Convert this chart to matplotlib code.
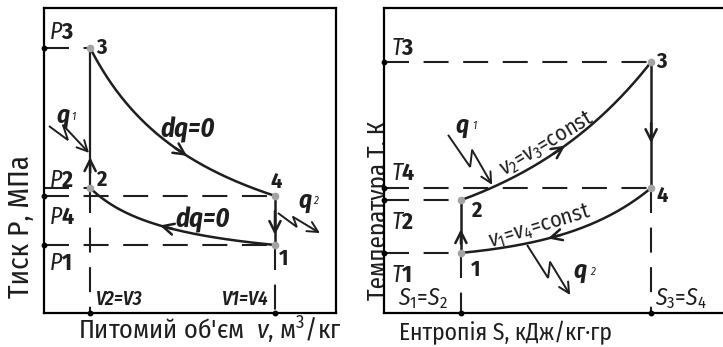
import numpy as np
import matplotlib
matplotlib.use("Agg")
import matplotlib.pyplot as plt
from matplotlib import font_manager

# Otto cycle, state points 1..4 (axis units, 0..1)
v_values = [0.791, 0.158, 0.158, 0.791]      # v1, v2, v3, v4
p_values = [0.223, 0.410, 0.869, 0.384]      # P1, P2, P3, P4
s_values = [0.227, 0.227, 0.788, 0.788]      # S1, S2, S3, S4
t_values = [0.197, 0.370, 0.823, 0.410]      # T1, T2, T3, T4
point_names = ["1", "2", "3", "4"]

# curve shapes: adiabats 3-4 and 1-2 (hyperbola shift), isochores 2-3 and 1-4 (bend)
adiabat_shift = [-0.280, -0.133]
isochore_bend = [1.25, 2.14]

ink = "#1e1e1e"
dot_grey = "#a3a3a3"

names = {f.name for f in font_manager.fontManager.ttflist}
narrow = next((n for n in ["Fira Sans Condensed", "PT Sans Narrow", "Roboto Condensed"] if n in names), None)
if narrow is None:
    narrow = "DejaVu Sans"
    plt.rcParams["font.stretch"] = "condensed"
plt.rcParams["font.family"] = [narrow, "DejaVu Sans"]
plt.rcParams["mathtext.fontset"] = "custom"
plt.rcParams["mathtext.rm"] = narrow
plt.rcParams["mathtext.it"] = narrow + ":italic"
plt.rcParams["mathtext.bf"] = narrow + ":bold"


def adiabat(va, pa, vb, pb, shift, v):
    c = (pa - pb) / (1 / (va - shift) - 1 / (vb - shift))
    b = pb - c / (vb - shift)
    return b + c / (v - shift)


def isochore(sa, ta, sb, tb, bend, s):
    t = (s - sa) / (sb - sa)
    return ta + (tb - ta) * np.expm1(bend * t) / np.expm1(bend)


head = "->,head_length=0.8,head_width=0.4"


def arrow(ax, tail, tip, lw=1.8):
    ax.annotate("", xy=tip, xytext=tail,
                arrowprops=dict(arrowstyle=head, lw=lw, color=ink, shrinkA=0, shrinkB=0))


def zap(ax, pts):
    # heat flow "lightning" arrow
    xs, ys = zip(*pts[:-1])
    ax.plot(xs, ys, color=ink, lw=1.4, solid_joinstyle="miter", solid_capstyle="butt")
    ax.annotate("", xy=pts[-1], xytext=pts[-2],
                arrowprops=dict(arrowstyle="->,head_length=0.75,head_width=0.38", lw=1.4,
                                color=ink, shrinkA=0, shrinkB=0))


def q_label(ax, x, y, sub):
    ax.text(x, y, "q", fontsize=18, fontweight="bold", style="italic", ha="center", va="center", color=ink)
    ax.text(x + 0.036, y - 0.004, sub, fontsize=8, style="italic", ha="center", va="center", color=ink)


dash = dict(color=ink, lw=1.5, linestyle=(0, (12, 7)))

fig = plt.figure(figsize=(7.23, 3.47), dpi=100)
ax1 = fig.add_axes([44 / 723, 34 / 347, 292 / 723, 305 / 347])
ax2 = fig.add_axes([384 / 723, 34 / 347, 339 / 723, 305 / 347])
for ax in (ax1, ax2):
    ax.set_xlim(0, 1)
    ax.set_ylim(0, 1)
    ax.set_xticks([])
    ax.set_yticks([])
    for sp in ax.spines.values():
        sp.set_linewidth(1.6)
        sp.set_color("black")
ax2.spines["right"].set_visible(False)

# ---------- P-v diagram ----------
v1, v2, v3, v4 = v_values
p1, p2, p3, p4 = p_values

ax1.plot([0, v3], [p3, p3], **dash)
ax1.plot([0, v2], [p2, p2], **dash)
ax1.plot([0, v4], [p4, p4], **dash)
ax1.plot([0, v1], [p1, p1], **dash)
ax1.plot([v2, v2], [p2, 0], **dash)
ax1.plot([v1, v1], [p1, 0], **dash)

ax1.plot([v2, v3], [p2, p3], color=ink, lw=1.6)
ax1.plot([v4, v1], [p4, p1], color=ink, lw=1.8)
vv = np.linspace(v3, v4, 200)
ax1.plot(vv, adiabat(v3, p3, v4, p4, adiabat_shift[0], vv), color=ink, lw=1.8)
vv = np.linspace(v2, v1, 200)
ax1.plot(vv, adiabat(v2, p2, v1, p1, adiabat_shift[1], vv), color=ink, lw=1.8)

arrow(ax1, (v2, p2 + 0.05), (v2, 0.511))
arrow(ax1, (v4, p4 - 0.05), (v4, 0.256))
tail, tip = 0.45, 0.49
arrow(ax1, (tail, adiabat(v3, p3, v4, p4, adiabat_shift[0], tail)),
      (tip, adiabat(v3, p3, v4, p4, adiabat_shift[0], tip)))
tail, tip = 0.44, 0.397
arrow(ax1, (tail, adiabat(v2, p2, v1, p1, adiabat_shift[1], tail)),
      (tip, adiabat(v2, p2, v1, p1, adiabat_shift[1], tip)))

ax1.plot(v_values, p_values, "o", color=dot_grey, ms=4.5, zorder=5)
ax1.plot([0, 0, 0], [p3, p4, p1], "o", color="black", ms=3.2, clip_on=False, zorder=6)
ax1.plot([v2, v1], [0, 0], "o", color="black", ms=3.2, clip_on=False, zorder=6)

num = dict(fontsize=16, fontweight="bold", color=ink, va="center")
ax1.text(v3 + 0.02, p3, point_names[2], ha="left", **num)
ax1.text(v2 + 0.02, p2 + 0.025, point_names[1], ha="left", **num)
ax1.text(v4 + 0.004, p4 + 0.045, point_names[3], ha="center", **num)
ax1.text(v1 + 0.03, p1 - 0.045, point_names[0], ha="center", **num)

plab = dict(fontsize=17, color=ink, ha="left", va="center")
ax1.text(0.018, 0.921, r"$P\mathbf{3}$", **plab)
ax1.text(0.018, 0.436, r"$P\mathbf{2}$", **plab)
ax1.text(0.018, 0.315, r"$P\mathbf{4}$", **plab)
ax1.text(0.018, 0.164, r"$P\mathbf{1}$", **plab)
vlab = dict(fontsize=14, style="italic", fontweight="semibold", color=ink, va="center")
ax1.text(v2 + 0.02, 0.046, "V2=V3", ha="left", **vlab)
ax1.text(v1 - 0.02, 0.046, "V1=V4", ha="right", **vlab)

dq = dict(fontsize=19, fontweight="bold", style="italic", color=ink, ha="center", va="center")
ax1.text(0.493, 0.600, "dq=0", **dq)
ax1.text(0.545, 0.305, "dq=0", **dq)

zap(ax1, [(0.017, 0.613), (0.082, 0.567), (0.065, 0.616), (0.154, 0.525)])
q_label(ax1, 0.065, 0.646, "1")
zap(ax1, [(0.801, 0.328), (0.866, 0.282), (0.853, 0.315), (0.945, 0.262)])
q_label(ax1, 0.894, 0.370, "2")

# ---------- T-s diagram ----------
s1, s2, s3, s4 = s_values
t1, t2, t3, t4 = t_values

ax2.plot([0, s3], [t3, t3], **dash)
ax2.plot([0, s4], [t4, t4], **dash)
ax2.plot([0, s2], [t2, t2], **dash)
ax2.plot([0, s1], [t1, t1], **dash)
ax2.plot([s1, s1], [t1, 0], **dash)
ax2.plot([s4, s4], [t4, 0], **dash)

ax2.plot([s1, s2], [t1, t2], color=ink, lw=1.8)
ax2.plot([s3, s4], [t3, t4], color=ink, lw=1.8)
ss = np.linspace(s2, s3, 200)
ax2.plot(ss, isochore(s2, t2, s3, t3, isochore_bend[0], ss), color=ink, lw=1.8)
ss = np.linspace(s1, s4, 200)
ax2.plot(ss, isochore(s1, t1, s4, t4, isochore_bend[1], ss), color=ink, lw=1.8)

arrow(ax2, (s3, t3 - 0.2), (s3, 0.557))
arrow(ax2, (s1, t1 + 0.03), (s1, 0.275))
tail, tip = 0.50, 0.534
arrow(ax2, (tail, isochore(s2, t2, s3, t3, isochore_bend[0], tail)),
      (tip, isochore(s2, t2, s3, t3, isochore_bend[0], tip)))
tail, tip = 0.52, 0.484
arrow(ax2, (tail, isochore(s1, t1, s4, t4, isochore_bend[1], tail)),
      (tip, isochore(s1, t1, s4, t4, isochore_bend[1], tip)))

ax2.plot(s_values, t_values, "o", color=dot_grey, ms=4.5, zorder=5)
ax2.plot([0, 0, 0, 0], [t3, t4, t2, t1], "o", color="black", ms=3.2, clip_on=False, zorder=6)
ax2.plot([s1, s4], [0, 0], "o", color="black", ms=3.2, clip_on=False, zorder=6)

ax2.text(s3 + 0.016, t3, point_names[2], ha="left", **num)
ax2.text(s4 + 0.016, t4 - 0.025, point_names[3], ha="left", **num)
ax2.text(s2 + 0.03, t2 - 0.036, point_names[1], ha="left", **num)
ax2.text(s1 + 0.03, t1 - 0.055, point_names[0], ha="left", **num)

tlab = dict(fontsize=17, color=ink, ha="left", va="center")
ax2.text(0.022, 0.869, r"$T\mathbf{3}$", **tlab)
ax2.text(0.022, 0.459, r"$T\mathbf{4}$", **tlab)
ax2.text(0.022, 0.298, r"$T\mathbf{2}$", **tlab)
ax2.text(0.022, 0.125, r"$T\mathbf{1}$", **tlab)
ax2.text(0.041, 0.046, "$S_1$=$S_2$", fontsize=17, color=ink, ha="left", va="center")
ax2.text(s4 + 0.01, 0.046, "$S_3$=$S_4$", fontsize=17, color=ink, ha="left", va="center")

ax2.text(0.481, 0.556, "$v_2$=$v_3$=const", fontsize=16, color=ink, rotation=31,
         ha="center", va="center", rotation_mode="anchor")
ax2.text(0.460, 0.284, "$v_1$=$v_4$=const", fontsize=16, color=ink, rotation=17,
         ha="center", va="center", rotation_mode="anchor")

zap(ax2, [(0.189, 0.584), (0.254, 0.479), (0.260, 0.534), (0.319, 0.420)])
q_label(ax2, 0.230, 0.616, "1")
zap(ax2, [(0.422, 0.223), (0.484, 0.115), (0.490, 0.167), (0.549, 0.059)])
q_label(ax2, 0.578, 0.138, "2")

# axis titles
fig.text(21 / 723, 1 - 226 / 347, "Тиск Р, МПа", rotation=90, fontsize=21, color=ink,
         ha="center", va="center")
fig.text(210 / 723, 7 / 347, "Питомий об'єм  $v$, м$^3$/кг", fontsize=19, color=ink,
         ha="center", va="baseline")
fig.text(391 / 723, 1 - 210 / 347, "Температура Т, К", rotation=90, fontsize=18, color=ink,
         ha="right", va="center", zorder=-1)
fig.text(505 / 723, 7 / 347, "Ентропія S, кДж/кг·гр", fontsize=17, color=ink,
         ha="center", va="baseline")

fig.savefig("out.png", dpi=100)
